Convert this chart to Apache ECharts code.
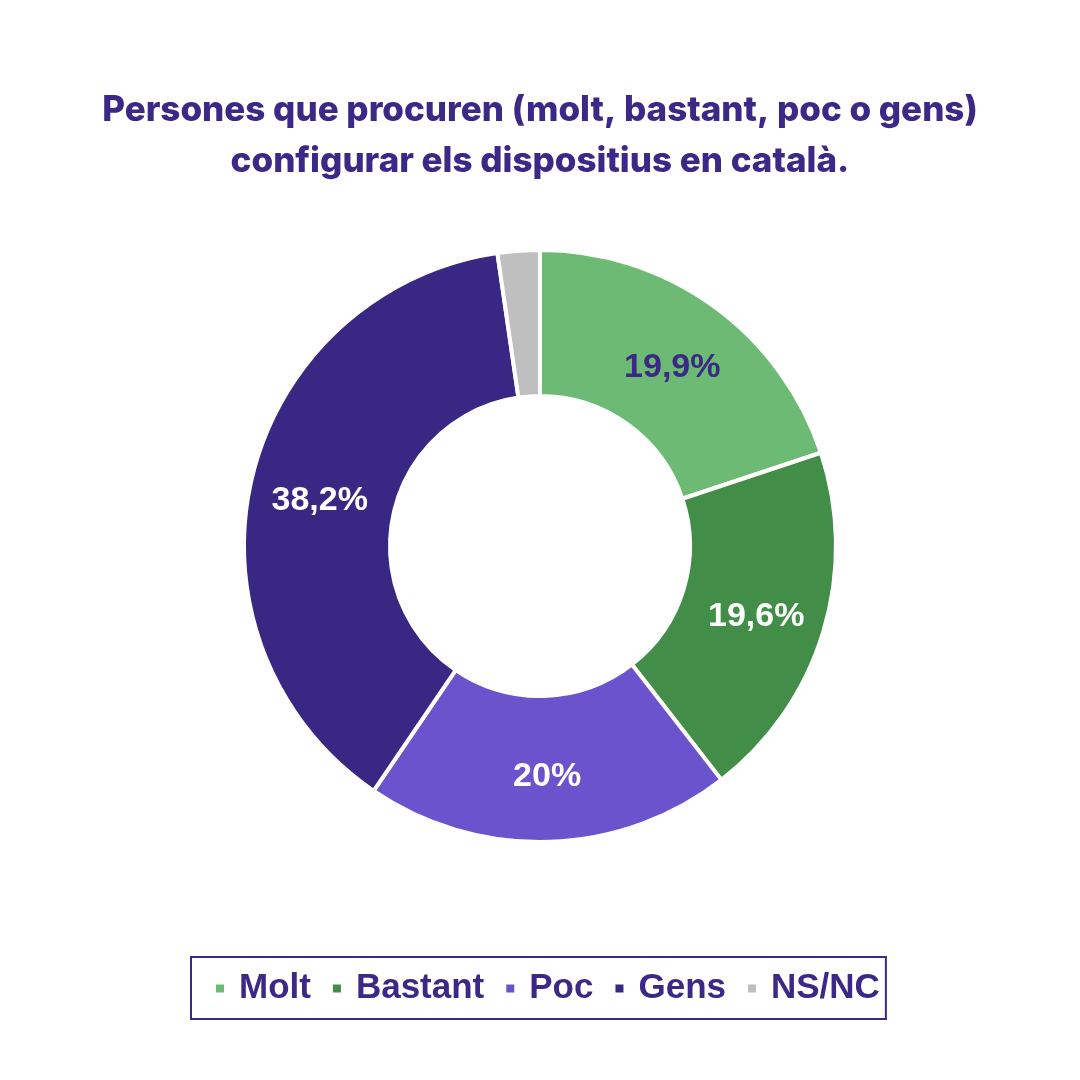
<!DOCTYPE html>
<html>
<head>
<meta charset="utf-8">
<script src="https://cdn.jsdelivr.net/npm/echarts@6/dist/echarts.min.js"></script>
<style>
    html, body { margin: 0; padding: 0; background: #ffffff; }
    #chart { width: 1080px; height: 1080px; }
</style>
</head>
<body>
<div id="chart"></div>
<script>
const categories = ['Molt', 'Bastant', 'Poc', 'Gens', 'NS/NC'];
const values = [19.9, 19.6, 20, 38.2, 2.3];
const value_labels = ['19,9%', '19,6%', '20%', '38,2%', ''];
const colors = ['#6dba74', '#428d48', '#6a53cc', '#392784', '#bfbfbf'];
const label_colors = ['#3b2887', '#ffffff', '#ffffff', '#ffffff', '#ffffff'];

const title_color = '#3b2887';

let pie_data = categories.map((name, i) => ({
    name: name,
    value: values[i],
    itemStyle: {color: colors[i]},
    label: {color: label_colors[i], show: value_labels[i] !== ''}
}));

let option = {
    animation: false,
    backgroundColor: '#ffffff',
    title: {
        text: 'Persones que procuren (molt, bastant, poc o gens)\nconfigurar els dispositius en català.',
        left: 'center', top: 80,
        textStyle: {
            fontFamily: 'Inter', fontSize: 35, fontWeight: 800,
            color: title_color, lineHeight: 51
        }
    },
    legend: {
        data: categories,
        left: 191, top: 957,
        orient: 'horizontal',
        icon: 'rect',
        itemWidth: 10, itemHeight: 10, itemGap: 20,
        borderColor: title_color, borderWidth: 2,
        padding: [12, 6, 11, 23],
        textStyle: {
            fontFamily: 'Liberation Sans', fontSize: 35, fontWeight: 'bold',
            color: title_color, lineHeight: 36, padding: [3, 0, 0, 9]
        }
    },
    series: [{
        type: 'pie',
        center: [540, 546],
        radius: [150, 296],
        startAngle: 90,
        clockwise: true,
        avoidLabelOverlap: false,
        itemStyle: {borderColor: '#ffffff', borderWidth: 4},
        label: {
            position: 'inside',
            fontFamily: 'Liberation Sans', fontSize: 34, fontWeight: 'bold',
            offset: [0, 5],
            formatter: function (p) { return value_labels[p.dataIndex]; }
        },
        labelLine: {show: false},
        emphasis: {disabled: true},
        data: pie_data
    }]
};

let my_chart = echarts.init(document.getElementById('chart'));
my_chart.setOption(option);
</script>
</body>
</html>
